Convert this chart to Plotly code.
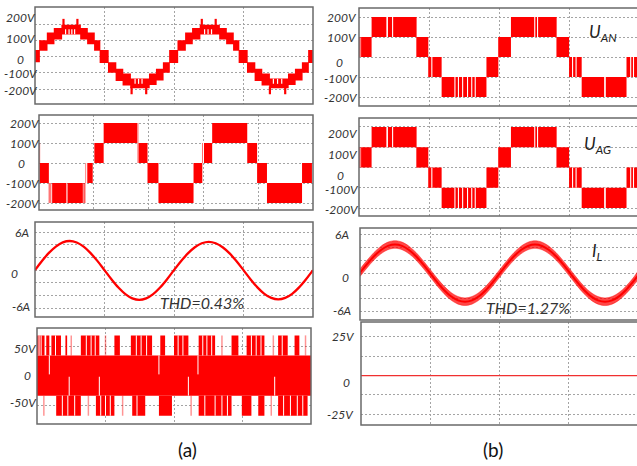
import plotly.graph_objects as go

W, H = 637, 466
RED = "#ff0000"
PINK = "rgba(255,0,0,0.42)"
FRAME = "#6a6a6a"
GRID = "#a4a4a4"
TXT = "#333333"

# ---------------- column (a) ----------------
# phase voltage: staircase bands (t0, t1, v_low, v_high), t in grid divisions
A1_BANDS = [
    (0.00, 0.07, -35, 40), (0.06, 0.18, 35, 100), (0.17, 0.28, 75, 148), (0.27, 0.39, 105, 175),
    (0.38, 0.66, 135, 195), (0.65, 0.76, 105, 175), (0.75, 0.86, 75, 148), (0.85, 0.94, 35, 100),
    (0.93, 1.06, -40, 40),
    (1.05, 1.17, -100, -35), (1.16, 1.27, -150, -75), (1.26, 1.38, -178, -105), (1.37, 1.65, -195, -135),
    (1.64, 1.75, -175, -105), (1.74, 1.85, -148, -75), (1.84, 1.94, -100, -35), (1.93, 2.06, -40, 40),
    (2.05, 2.17, 35, 100), (2.16, 2.27, 75, 148), (2.26, 2.38, 105, 175), (2.37, 2.66, 135, 195),
    (2.65, 2.76, 105, 175), (2.75, 2.86, 75, 148), (2.85, 2.94, 35, 100), (2.93, 3.06, -40, 40),
    (3.05, 3.17, -100, -35), (3.16, 3.27, -150, -75), (3.26, 3.38, -178, -105), (3.37, 3.65, -195, -135),
    (3.64, 3.75, -175, -105), (3.74, 3.85, -148, -75), (3.84, 3.94, -100, -35), (3.93, 4.00, -40, 40),
]
A1_SPIKES = [(0.41, 185, 232), (0.61, 185, 232), (1.39, -232, -185), (1.60, -232, -185),
             (2.40, 185, 232), (2.60, 185, 232), (3.38, -232, -185), (3.60, -232, -185)]
A1_NOTCHES = [(0.44, 137, 168), (0.49, 137, 168), (0.53, 137, 168), (0.57, 137, 168),
              (1.44, -168, -137), (1.49, -168, -137), (1.54, -168, -137),
              (2.44, 137, 168), (2.49, 137, 168), (2.54, 137, 168),
              (3.43, -168, -137), (3.49, -168, -137), (3.55, -168, -137)]
A1_TICK_VALUES = [200, 100, 0, -100, -200]
A1_TICK_TEXT = ["200V", "100V", "0", "-100V", "-200V"]

# pole voltage: five-level bands
A2_BANDS = [
    (0.01, 0.18, -100, 0), (0.24, 0.50, -200, -100), (0.52, 0.80, -200, -100), (0.85, 0.98, -100, 0),
    (1.01, 1.18, 0, 100), (1.18, 1.79, 100, 200), (1.82, 1.98, 0, 100),
    (1.98, 2.18, -100, 0), (2.18, 2.82, -200, -100), (2.82, 2.98, -100, 0),
    (2.98, 3.16, 0, 100), (3.16, 3.80, 100, 200), (3.80, 3.98, 0, 100),
    (3.98, 4.16, -100, 0), (4.16, 4.80, -200, -100), (4.80, 4.98, -100, 0),
]
A2_PINK = [(0.004, 0, 100), (0.19, -200, -100), (0.21, -200, -100), (0.82, -200, -100),
           (0.835, -200, -100), (1.80, 100, 200), (1.81, 0, 100), (3.95, 0, 100),
           (4.78, -200, -100), (4.96, -100, 0)]
A2_NOTCHES = [(0.87, -100, 0), (3.0, 0, 100)]
A2_TICK_VALUES = [200, 100, 0, -100, -200]
A2_TICK_TEXT = ["200V", "100V", "0", "-100V", "-200V"]

# load current (A), sampled every 0.1 division
A3_TIME = [0.0, 0.1, 0.2, 0.3, 0.4, 0.5, 0.6, 0.7, 0.8, 0.9, 1.0, 1.1, 1.2, 1.3, 1.4, 1.5, 1.6,
           1.7, 1.8, 1.9, 2.0, 2.1, 2.2, 2.3, 2.4, 2.5, 2.6, 2.7, 2.8, 2.9, 3.0, 3.1, 3.2, 3.3,
           3.4, 3.5, 3.6, 3.7, 3.8, 3.9, 4.0]
A3_CURRENT = [0.0, 1.45, 2.72, 3.72, 4.38, 4.6, 4.36, 3.7, 2.68, 1.42, 0.0, -1.45, -2.75, -3.78,
              -4.45, -4.7, -4.45, -3.78, -2.74, -1.44, 0.0, 1.4, 2.64, 3.62, 4.24, 4.47, 4.24,
              3.62, 2.64, 1.4, 0.0, -1.43, -2.72, -3.74, -4.39, -4.62, -4.39, -3.74, -2.72,
              -1.43, 0.0]
A3_TICK_VALUES = [6, 0, -6]
A3_TICK_TEXT = ["6A", "0", "-6A"]
A3_THD = "THD=0.43%"

# common-mode voltage: base band plus pulses
A4_BASE = [(0.0, 4.0, -34, 34)]
A4_PULSES = [
    (0.00, 0.11, 34, 68), (0.135, 0.18, 34, 68), (0.21, 0.35, 34, 68), (0.415, 0.44, 34, 68),
    (0.64, 0.91, 34, 68), (1.13, 1.21, 34, 68), (1.37, 1.68, 34, 68), (1.80, 1.87, 34, 68),
    (2.00, 2.21, 34, 68), (2.36, 2.60, 34, 68), (2.84, 2.94, 34, 68), (3.06, 3.32, 34, 68),
    (3.52, 3.66, 34, 68), (3.76, 3.83, 34, 68),
    (0.28, 0.64, -68, -34), (0.86, 1.13, -68, -34), (1.39, 1.58, -68, -34), (1.78, 1.97, -68, -34),
    (2.36, 2.84, -68, -34), (2.99, 3.13, -68, -34), (3.23, 3.32, -68, -34), (3.52, 3.95, -68, -34),
]
A4_PINK = [(0.50, 34, 68), (1.00, 34, 68), (2.70, 34, 68), (3.45, 34, 68), (3.92, 34, 68),
           (0.10, -68, -34), (0.75, -68, -34), (1.25, -68, -34), (2.25, -68, -34), (3.42, -68, -34)]
A4_NOTCHES = [(0.03, 34, 68), (0.06, 34, 68), (0.27, 34, 68), (0.72, 34, 68), (0.79, 34, 68),
              (0.85, 34, 68), (1.45, 34, 68), (1.52, 34, 68), (1.60, 34, 68), (2.06, 34, 68),
              (2.13, 34, 68), (2.42, 34, 68), (2.48, 34, 68), (2.55, 34, 68), (3.13, 34, 68),
              (3.20, 34, 68), (3.27, 34, 68), (3.58, 34, 68),
              (0.37, -68, -34), (0.45, -68, -34), (0.55, -68, -34), (0.93, -68, -34),
              (1.00, -68, -34), (1.07, -68, -34), (1.46, -68, -34), (2.45, -68, -34),
              (2.60, -68, -34), (2.70, -68, -34), (2.78, -68, -34), (3.60, -68, -34),
              (3.70, -68, -34), (3.80, -68, -34), (3.88, -68, -34),
              (0.18, 2, 34), (1.78, 2, 34), (2.35, 2, 34), (0.47, -34, -2), (0.91, -34, -2),
              (2.21, -34, -2), (3.47, -34, -2)]
A4_TICK_VALUES = [50, 0, -50]
A4_TICK_TEXT = ["50V", "0", "-50V"]

# ---------------- column (b) ----------------
B1_BANDS = [
    (0.03, 0.18, 0, 100), (0.18, 0.82, 100, 200), (0.82, 0.99, 0, 100),
    (0.99, 1.18, -100, 0), (1.18, 1.82, -200, -100), (1.82, 1.99, -100, 0),
    (1.99, 2.17, 0, 100), (2.17, 2.82, 100, 200), (2.82, 3.00, 0, 100),
    (3.00, 3.18, -100, 0), (3.18, 3.82, -200, -100), (3.82, 3.97, -100, 0),
]
B1_PINK = [(0.005, 0, 100), (0.018, 0, 100), (0.79, 100, 200), (0.81, 100, 200), (0.835, 0, 100),
           (0.85, 0, 100), (1.005, -100, 0), (1.02, -100, 0), (1.85, -100, 0), (1.87, -100, 0),
           (2.00, 0, 100), (2.81, 100, 200), (2.84, 0, 100), (3.02, -100, 0), (3.80, -200, -100),
           (3.85, -100, 0)]
B1_NOTCHES = [(0.40, 100, 200), (0.405, 100, 200), (0.48, 100, 200),
              (1.37, -200, -100), (1.42, -200, -100), (1.48, -200, -100), (1.55, -200, -100),
              (1.61, -200, -100), (1.66, -200, -100), (2.51, 100, 200), (2.55, 100, 200),
              (3.51, -200, -100), (3.515, -200, -100), (3.05, -100, 0), (3.10, -100, 0),
              (3.88, -100, 0), (3.92, -100, 0), (1.04, -100, 0)]
B1_TICK_VALUES = [200, 100, 0, -100, -200]
B1_TICK_TEXT = ["200V", "100V", "0", "-100V", "-200V"]
B1_NAME = "<i>U<sub>AN</sub></i>"

# leg-to-ground voltage equals the phase voltage here
B2_BANDS = B1_BANDS
B2_PINK = B1_PINK
B2_NOTCHES = B1_NOTCHES
B2_TICK_VALUES = [200, 100, 0, -100, -200]
B2_TICK_TEXT = ["200V", "100V", "0", "-100V", "-200V"]
B2_NAME = "<i>U<sub>AG</sub></i>"

B3_TIME = A3_TIME
B3_CURRENT = [0.05, 1.4, 2.65, 3.64, 4.28, 4.5, 4.28, 3.64, 2.65, 1.39, 0.0, -1.4, -2.66, -3.66,
              -4.3, -4.52, -4.3, -3.66, -2.66, -1.4, 0.0, 1.39, 2.64, 3.63, 4.27, 4.49, 4.27,
              3.63, 2.64, 1.39, 0.0, -1.4, -2.67, -3.67, -4.31, -4.53, -4.31, -3.67, -2.67,
              -1.4, 0.0]
B3_RIPPLE = 0.6
B3_TICK_VALUES = [6, 0, -6]
B3_TICK_TEXT = ["6A", "0", "-6A"]
B3_NAME = "<i>I<sub>L</sub></i>"
B3_THD = "THD=1.27%"

B4_TIME = [0.0, 4.0]
B4_VOLTAGE = [0.0, 0.0]
B4_TICK_VALUES = [25, 0, -25]
B4_TICK_TEXT = ["25V", "0", "-25V"]

# ---------------- layout of the panels (pixel boxes) ----------------
PANELS = [
    dict(box=(35, 7, 313, 104), yr=(-292, 305), xr=(0, 4), xg=[1, 2, 3], yg=[200, 100, 0, -100, -200],
         tv=A1_TICK_VALUES, tt=A1_TICK_TEXT, lx=[21, 21, 20, 21, 21], sh=[7, 2, -3, -1, -1]),
    dict(box=(39, 115, 313, 210), yr=(-235, 240), xr=(0, 5), xg=[1, 2, 3, 4], yg=[200, 100, 0, -100, -200],
         tv=A2_TICK_VALUES, tt=A2_TICK_TEXT, lx=[25, 25, 21, 23, 23], sh=[0, 0, 0, 0, 0]),
    dict(box=(35, 222, 313, 317), yr=(-7.4, 7.6), xr=(0, 4), xg=[1, 2, 3], yg=[6, 4, 2, 0, -2, -4, -6],
         tv=A3_TICK_VALUES, tt=A3_TICK_TEXT, lx=[22, 14, 21], sh=[0, -3, 2]),
    dict(box=(37, 328, 311, 424), yr=(-82, 80.5), xr=(0, 4), xg=[1, 2, 3], yg=[50, 0, -50],
         tv=A4_TICK_VALUES, tt=A4_TICK_TEXT, lx=[25, 27, 23], sh=[-2, 0, 3]),
    dict(box=(359, 8, 637, 106), yr=(-245, 245), xr=(0, 3.97), xg=[1, 2, 3], yg=[200, 100, 0, -100, -200],
         tv=B1_TICK_VALUES, tt=B1_TICK_TEXT, lx=[342, 342, 339, 341, 341], sh=[0, 0, -5, -1, 0]),
    dict(box=(359, 118, 637, 216), yr=(-239, 244), xr=(0, 3.97), xg=[1, 2, 3], yg=[200, 100, 0, -100, -200],
         tv=B2_TICK_VALUES, tt=B2_TICK_TEXT, lx=[343, 343, 341, 342, 342], sh=[-7, -7, -8, -2, -1]),
    dict(box=(360, 228, 637, 320), yr=(-7.4, 7.1), xr=(0, 3.957), xg=[1, 2, 3], yg=[6, 4, 2, 0, -2, -4, -6],
         tv=B3_TICK_VALUES, tt=B3_TICK_TEXT, lx=[342, 345, 342], sh=[0, -4, 1]),
    dict(box=(361, 322, 637, 425), yr=(-32, 34.7), xr=(0, 4), xg=[1, 2, 3], yg=[25, 12.5, 0, -12.5, -25],
         tv=B4_TICK_VALUES, tt=B4_TICK_TEXT, lx=[343, 346, 341], sh=[0, -7, 0]),
]

TICK_FONT = dict(family="Lato, 'Open Sans', sans-serif", size=12, color=TXT, style="italic")
NAME_FONT = dict(family="Lato, 'Open Sans', sans-serif", size=17, color="#222222", style="italic")


def fx(x):
    return x / W


def fy(y):
    return 1 - y / H


fig = go.Figure()


def axes_of(i):
    s = "" if i == 1 else str(i)
    return "x" + s, "y" + s


def add_bands(i, bands, color=RED):
    xa, ya = axes_of(i)
    xs, ys = [], []
    for t0, t1, lo, hi in bands:
        xs += [t0, t1, t1, t0, t0, None]
        ys += [lo, lo, hi, hi, lo, None]
    fig.add_trace(go.Scatter(x=xs, y=ys, mode="lines", fill="toself", fillcolor=color,
                             line=dict(width=0, color=color), xaxis=xa, yaxis=ya, hoverinfo="skip"))


def add_vlines(i, lines, color, width):
    xa, ya = axes_of(i)
    xs, ys = [], []
    for t, lo, hi in lines:
        xs += [t, t, None]
        ys += [lo, hi, None]
    fig.add_trace(go.Scatter(x=xs, y=ys, mode="lines", line=dict(width=width, color=color),
                             xaxis=xa, yaxis=ya, hoverinfo="skip"))


# (a) phase voltage
add_bands(1, A1_BANDS)
add_vlines(1, A1_SPIKES, RED, 2.2)
add_vlines(1, A1_NOTCHES, "white", 1.2)
# (a) pole voltage
add_bands(2, A2_BANDS)
add_vlines(2, A2_PINK, PINK, 2)
add_vlines(2, A2_NOTCHES, "white", 1.2)
# (a) current
fig.add_trace(go.Scatter(x=A3_TIME, y=A3_CURRENT, mode="lines", line=dict(color=RED, width=2.3, shape="spline"),
                         xaxis="x3", yaxis="y3", hoverinfo="skip"))
# (a) common-mode voltage
add_bands(4, A4_BASE)
add_bands(4, A4_PULSES)
add_vlines(4, A4_PINK, PINK, 1.5)
add_vlines(4, A4_NOTCHES, "white", 1.0)
# (b) U_AN and U_AG
add_bands(5, B1_BANDS)
add_vlines(5, B1_PINK, PINK, 2)
add_vlines(5, B1_NOTCHES, "white", 1.1)
add_bands(6, B2_BANDS)
add_vlines(6, B2_PINK, PINK, 2)
add_vlines(6, B2_NOTCHES, "white", 1.1)
# (b) current with switching ripple band
upper = [v + B3_RIPPLE for v in B3_CURRENT]
lower = [v - B3_RIPPLE for v in B3_CURRENT]
fig.add_trace(go.Scatter(x=B3_TIME + B3_TIME[::-1], y=upper + lower[::-1], mode="lines", fill="toself",
                         fillcolor="rgba(255,0,0,0.72)", line=dict(width=0.8, color="rgba(255,0,0,0.5)",
                                                                    shape="spline"),
                         xaxis="x7", yaxis="y7", hoverinfo="skip"))
fig.add_trace(go.Scatter(x=B3_TIME, y=B3_CURRENT, mode="lines", line=dict(color=RED, width=2, shape="spline"),
                         xaxis="x7", yaxis="y7", hoverinfo="skip"))
# (b) common-mode voltage
fig.add_trace(go.Scatter(x=B4_TIME, y=B4_VOLTAGE, mode="lines", line=dict(color="#f03030", width=1.3),
                         xaxis="x8", yaxis="y8", hoverinfo="skip"))

AX = dict(showgrid=True, gridcolor=GRID, griddash="2px,2px", gridwidth=1, showticklabels=False,
          ticks="", zeroline=False, showline=False, fixedrange=True)

layout = dict(width=W, height=H, margin=dict(l=0, r=0, t=0, b=0), paper_bgcolor="white",
              plot_bgcolor="white", showlegend=False)
shapes, annotations = [], []
for i, p in enumerate(PANELS, start=1):
    s = "" if i == 1 else str(i)
    l, t, r, b = p["box"]
    layout["xaxis" + s] = dict(domain=[fx(l), min(1.0, fx(r))], range=list(p["xr"]), anchor="y" + s,
                               tickvals=p["xg"], **AX)
    layout["yaxis" + s] = dict(domain=[fy(b), fy(t)], range=list(p["yr"]), anchor="x" + s,
                               tickvals=p["yg"], **AX)
    r_frame = r if r < 630 else 642
    shapes.append(dict(type="rect", xref="paper", yref="paper", x0=fx(l), x1=fx(r_frame), y0=fy(b), y1=fy(t),
                       line=dict(color=FRAME, width=1.5), layer="above"))
    for v, txt, lx, sh in zip(p["tv"], p["tt"], p["lx"], p["sh"]):
        annotations.append(dict(xref="paper", yref="y" + s, x=fx(lx), y=v, text=txt, showarrow=False,
                                xanchor="center", yanchor="middle", yshift=sh, font=TICK_FONT))

# trace names and THD notes
for txt, x, y in [(B1_NAME, 603, 33), (B2_NAME, 597, 145), (B3_NAME, 597, 252)]:
    annotations.append(dict(xref="paper", yref="paper", x=fx(x), y=fy(y), text=txt, showarrow=False,
                            xanchor="center", yanchor="middle", font=NAME_FONT))
for txt, x, y in [(A3_THD, 202, 302), (B3_THD, 528, 307)]:
    annotations.append(dict(xref="paper", yref="paper", x=fx(x), y=fy(y), text=txt, showarrow=False,
                            xanchor="center", yanchor="middle",
                            font=dict(family="Lato, 'Open Sans', sans-serif", size=16, color=TXT, style="italic")))
for txt, x in [("(a)", 187), ("(b)", 493)]:
    annotations.append(dict(xref="paper", yref="paper", x=fx(x), y=fy(449), text=txt, showarrow=False,
                            xanchor="center", yanchor="middle",
                            font=dict(family="Lato, 'Open Sans', sans-serif", size=19, color="#111111")))

layout["shapes"] = shapes
layout["annotations"] = annotations
fig.update_layout(**layout)
fig.write_html("out.html")
